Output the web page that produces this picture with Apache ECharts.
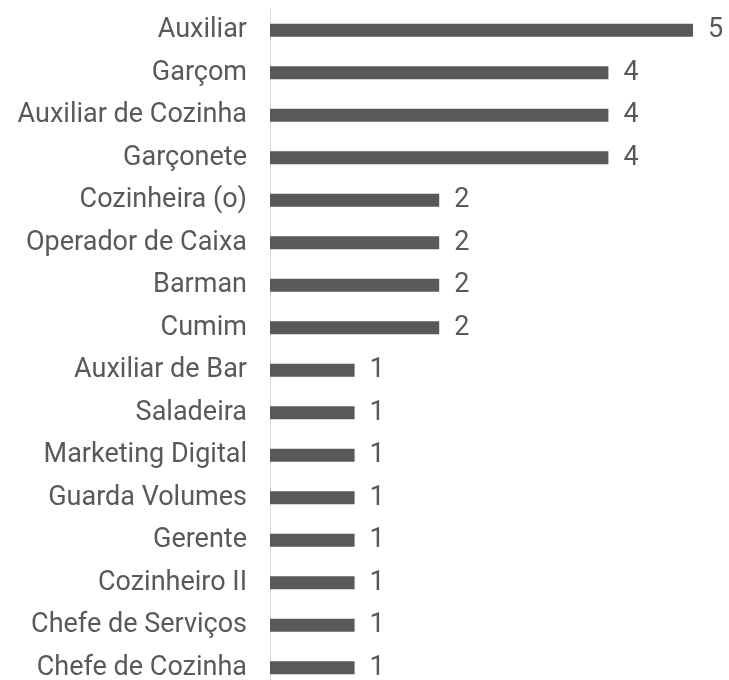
<!DOCTYPE html>
<html>
<head>
<meta charset="utf-8">
<script src="https://cdn.jsdelivr.net/npm/echarts@6/dist/echarts.min.js"></script>
<style>
  html, body { margin: 0; padding: 0; background: #fff; }
  #chart { width: 729px; height: 680px; }
</style>
</head>
<body>
<div id="chart"></div>
<script>
var categories = ['Auxiliar', 'Garçom', 'Auxiliar de Cozinha', 'Garçonete', 'Cozinheira (o)',
  'Operador de Caixa', 'Barman', 'Cumim', 'Auxiliar de Bar', 'Saladeira', 'Marketing Digital',
  'Guarda Volumes', 'Gerente', 'Cozinheiro II', 'Chefe de Serviços', 'Chefe de Cozinha'];
var counts = [5, 4, 4, 4, 2, 2, 2, 2, 1, 1, 1, 1, 1, 1, 1, 1];

var myChart = echarts.init(document.getElementById('chart'));
var option = {
  animation: false,
  grid: { left: 270, right: 36, top: 9, height: 680, outerBoundsMode: 'none', containLabel: false },
  xAxis: {
    type: 'value', min: 0, max: 5,
    show: false
  },
  yAxis: {
    type: 'category',
    data: categories,
    inverse: true,
    axisLine: { show: true, lineStyle: { color: '#d9d9d9', width: 1 } },
    axisTick: { show: false },
    axisLabel: { color: '#595959', fontSize: 27, fontFamily: 'Roboto', margin: 23 }
  },
  series: [{
    type: 'bar',
    data: counts,
    barWidth: 13,
    itemStyle: { color: '#595959' },
    label: {
      show: true, position: 'right', distance: 15,
      color: '#595959', fontSize: 27, fontFamily: 'Roboto'
    }
  }]
};
myChart.setOption(option);
</script>
</body>
</html>
